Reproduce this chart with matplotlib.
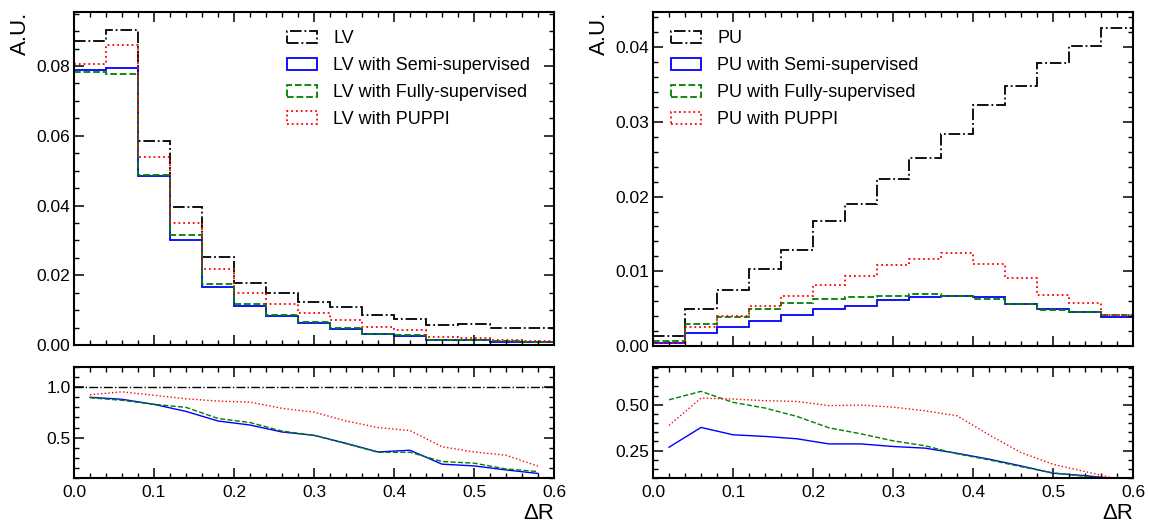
import numpy as np
import matplotlib
matplotlib.use("Agg")
import matplotlib.pyplot as plt
from matplotlib.patches import Patch
from matplotlib.ticker import MultipleLocator, FormatStrFormatter

plt.rcParams['font.family'] = ['Liberation Sans', 'DejaVu Sans']

# ---------------- data ----------------
bin_edges = [0.00, 0.04, 0.08, 0.12, 0.16, 0.20, 0.24, 0.28, 0.32, 0.36, 0.40, 0.44, 0.48, 0.52, 0.56, 0.60]
bin_centers = [0.02, 0.06, 0.10, 0.14, 0.18, 0.22, 0.26, 0.30, 0.34, 0.38, 0.42, 0.46, 0.50, 0.54, 0.58]

lv_truth = [0.0872, 0.0903, 0.0585, 0.0396, 0.0251, 0.0179, 0.0149, 0.0124, 0.0108, 0.0087, 0.0075, 0.0057, 0.0059, 0.0050, 0.0050]
lv_semi  = [0.0790, 0.0794, 0.0484, 0.0301, 0.0167, 0.0113, 0.0083, 0.0064, 0.0046, 0.0031, 0.0026, 0.0013, 0.0013, 0.0010, 0.0008]
lv_fully = [0.0783, 0.0777, 0.0487, 0.0315, 0.0175, 0.0117, 0.0085, 0.0066, 0.0048, 0.0031, 0.0028, 0.0015, 0.0014, 0.0011, 0.0010]
lv_puppi = [0.0807, 0.0861, 0.0540, 0.0351, 0.0217, 0.0150, 0.0117, 0.0093, 0.0072, 0.0053, 0.0043, 0.0023, 0.0019, 0.0015, 0.0011]

pu_truth = [0.0013, 0.0050, 0.0075, 0.0103, 0.0129, 0.0167, 0.0190, 0.0224, 0.0252, 0.0284, 0.0322, 0.0348, 0.0379, 0.0402, 0.0425]
pu_semi  = [0.0004, 0.0018, 0.0025, 0.0033, 0.0042, 0.0049, 0.0054, 0.0061, 0.0066, 0.0067, 0.0065, 0.0056, 0.0049, 0.0046, 0.0039]
pu_fully = [0.0007, 0.0029, 0.0039, 0.0049, 0.0057, 0.0063, 0.0066, 0.0067, 0.0069, 0.0067, 0.0063, 0.0056, 0.0048, 0.0046, 0.0041]
pu_puppi = [0.0004, 0.0026, 0.0040, 0.0053, 0.0067, 0.0082, 0.0094, 0.0108, 0.0117, 0.0125, 0.0110, 0.0091, 0.0068, 0.0057, 0.0041]

lv_ratio_semi  = [0.900, 0.880, 0.830, 0.760, 0.665, 0.625, 0.556, 0.523, 0.444, 0.358, 0.375, 0.237, 0.220, 0.180, 0.145]
lv_ratio_fully = [0.895, 0.870, 0.830, 0.800, 0.690, 0.650, 0.565, 0.523, 0.440, 0.355, 0.355, 0.263, 0.247, 0.190, 0.164]
lv_ratio_puppi = [0.925, 0.954, 0.920, 0.885, 0.862, 0.852, 0.790, 0.753, 0.665, 0.600, 0.570, 0.410, 0.358, 0.326, 0.217]

pu_ratio_semi  = [0.268, 0.376, 0.336, 0.327, 0.314, 0.286, 0.286, 0.272, 0.263, 0.235, 0.203, 0.166, 0.126, 0.113, 0.095]
pu_ratio_fully = [0.527, 0.573, 0.513, 0.482, 0.436, 0.374, 0.341, 0.303, 0.276, 0.232, 0.199, 0.162, 0.128, 0.109, 0.095]
pu_ratio_puppi = [0.387, 0.536, 0.531, 0.522, 0.518, 0.495, 0.498, 0.487, 0.467, 0.440, 0.336, 0.239, 0.175, 0.135, 0.095]

lv_labels = ["LV", "LV with Semi-supervised", "LV with Fully-supervised", "LV with PUPPI"]
pu_labels = ["PU", "PU with Semi-supervised", "PU with Fully-supervised", "PU with PUPPI"]

colors = ["black", "#0000ff", "#008000", "#ff0000"]
styles = ["-.", "-", "--", ":"]
LW = 1.3
TICK_FS = 12.5
LEG_FS = 13

W, H = 1149, 526
fig = plt.figure(figsize=(W / 100, H / 100), dpi=100)

def box(x0, y0, x1, y1):
    return [x0 / W, 1 - y1 / H, (x1 - x0) / W, (y1 - y0) / H]

axL = fig.add_axes(box(74, 12, 554, 345))
axLr = fig.add_axes(box(74, 367, 554, 478))
axR = fig.add_axes(box(653, 12, 1133, 346))
axRr = fig.add_axes(box(653, 367, 1133, 478))

def style_axis(ax, xlabels=True):
    for s in ax.spines.values():
        s.set_linewidth(1.5)
    ax.tick_params(which='both', direction='in', top=True, right=True, labelsize=TICK_FS)
    ax.tick_params(which='major', length=7, width=1.1, pad=2.5)
    ax.tick_params(which='minor', length=3.5, width=1.0)
    ax.tick_params(axis='x', which='major', pad=5)
    ax.xaxis.set_major_locator(MultipleLocator(0.1))
    ax.xaxis.set_minor_locator(MultipleLocator(0.02))
    ax.set_xlim(0, 0.6)
    if not xlabels:
        ax.tick_params(labelbottom=False)

def draw_top(ax, series, labels, ymax, major, minor, legx):
    for vals, c, ls in zip(series, colors, styles):
        ax.stairs(vals, bin_edges, baseline=None, color=c, linestyle=ls, lw=LW)
    ax.set_ylim(0, ymax)
    ax.yaxis.set_major_locator(MultipleLocator(major))
    ax.yaxis.set_minor_locator(MultipleLocator(minor))
    ax.yaxis.set_major_formatter(FormatStrFormatter('%.2f'))
    style_axis(ax, xlabels=False)
    ax.set_ylabel("A.U.", loc='top', fontsize=16, labelpad=4)
    handles = [Patch(facecolor='none', edgecolor=c, linestyle=ls, lw=LW) for c, ls in zip(colors, styles)]
    ax.legend(handles, labels, loc='upper left', bbox_to_anchor=(legx, 0.945), frameon=False,
              fontsize=LEG_FS, borderpad=0, borderaxespad=0, handlelength=1.65, handleheight=0.7,
              handletextpad=0.9, labelspacing=0.55)

draw_top(axL, [lv_truth, lv_semi, lv_fully, lv_puppi], lv_labels, 0.0955, 0.02, 0.005, 0.444)
draw_top(axR, [pu_truth, pu_semi, pu_fully, pu_puppi], pu_labels, 0.0447, 0.01, 0.002, 0.0375)

# ratio panels
axLr.axhline(1.0, color='black', linestyle='-.', lw=1.0)
for vals, c, ls in zip([lv_ratio_semi, lv_ratio_fully, lv_ratio_puppi], colors[1:], styles[1:]):
    axLr.plot(bin_centers, vals, color=c, linestyle=ls, lw=1.0)
axLr.set_ylim(0.1, 1.2)
axLr.yaxis.set_major_locator(MultipleLocator(0.5))
axLr.yaxis.set_minor_locator(MultipleLocator(0.1))
axLr.yaxis.set_major_formatter(FormatStrFormatter('%.1f'))
style_axis(axLr)
axLr.set_xlabel("ΔR", loc='right', fontsize=16, labelpad=2)
axLr.xaxis.set_major_formatter(FormatStrFormatter('%.1f'))

for vals, c, ls in zip([pu_ratio_semi, pu_ratio_fully, pu_ratio_puppi], colors[1:], styles[1:]):
    axRr.plot(bin_centers, vals, color=c, linestyle=ls, lw=1.0)
axRr.set_ylim(0.1, 0.706)
axRr.yaxis.set_major_locator(MultipleLocator(0.25))
axRr.yaxis.set_minor_locator(MultipleLocator(0.05))
axRr.yaxis.set_major_formatter(FormatStrFormatter('%.2f'))
style_axis(axRr)
axRr.set_xlabel("ΔR", loc='right', fontsize=16, labelpad=2)
axRr.xaxis.set_major_formatter(FormatStrFormatter('%.1f'))

fig.savefig("out.png", dpi=100)
